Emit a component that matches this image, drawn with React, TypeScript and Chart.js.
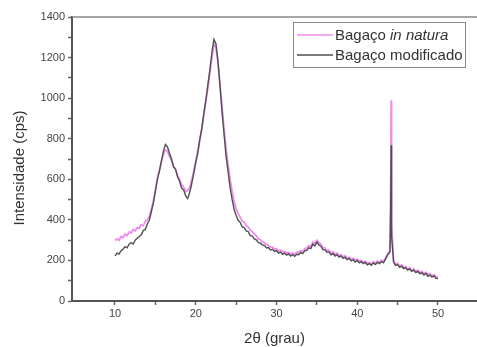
import React, { useEffect, useRef } from "react";
import { Chart, registerables } from "chart.js";

Chart.register(...registerables);

const angles = [
  10, 10.25, 10.5, 10.75, 11, 11.25, 11.5, 11.75, 12, 12.25, 12.5, 12.75,
  13, 13.25, 13.5, 13.75, 14, 14.25, 14.5, 14.75, 15, 15.25, 15.5, 15.75,
  16, 16.25, 16.5, 16.75, 17, 17.25, 17.5, 17.75, 18, 18.25, 18.5, 18.75,
  19, 19.25, 19.5, 19.75, 20, 20.25, 20.5, 20.75, 21, 21.25, 21.5, 21.75,
  22, 22.25, 22.5, 22.75, 23, 23.25, 23.5, 23.75, 24, 24.25, 24.5, 24.75,
  25, 25.25, 25.5, 25.75, 26, 26.25, 26.5, 26.75, 27, 27.25, 27.5, 27.75,
  28, 28.25, 28.5, 28.75, 29, 29.25, 29.5, 29.75, 30, 30.25, 30.5, 30.75,
  31, 31.25, 31.5, 31.75, 32, 32.25, 32.5, 32.75, 33, 33.25, 33.5, 33.75,
  34, 34.25, 34.5, 34.75, 35, 35.25, 35.5, 35.75, 36, 36.25, 36.5, 36.75,
  37, 37.25, 37.5, 37.75, 38, 38.25, 38.5, 38.75, 39, 39.25, 39.5, 39.75,
  40, 40.25, 40.5, 40.75, 41, 41.25, 41.5, 41.75, 42, 42.25, 42.5, 42.75,
  43, 43.25, 43.5, 43.75, 44.05, 44.15, 44.2, 44.25, 44.5, 44.75,
  45, 45.25, 45.5, 45.75, 46, 46.25, 46.5, 46.75, 47, 47.25, 47.5, 47.75,
  48, 48.25, 48.5, 48.75, 49, 49.25, 49.5, 49.75, 50,
];

const inNatura = [
  298, 306, 300, 318, 312, 330, 322, 340, 335, 352, 345, 362,
  358, 375, 372, 392, 400, 418, 452, 492, 548, 604, 645, 688,
  722, 745, 738, 712, 692, 662, 650, 618, 600, 572, 562, 540,
  545, 560, 596, 640, 690, 742, 795, 850, 915, 982, 1050, 1125,
  1200, 1268, 1250, 1172, 1072, 962, 850, 752, 672, 600, 542, 490,
  455, 430, 414, 394, 388, 372, 364, 350, 342, 330, 322, 306,
  302, 292, 288, 278, 274, 266, 266, 256, 258, 248, 250, 242,
  244, 236, 240, 232, 236, 230, 240, 238, 248, 244, 258, 262,
  272, 270, 290, 285, 300, 288, 280, 262, 262, 248, 250, 238,
  242, 230, 236, 224, 228, 218, 224, 212, 216, 206, 210, 200,
  206, 196, 200, 190, 196, 186, 190, 182, 194, 186, 196, 190,
  200, 196, 212, 232, 250, 640, 990, 380, 198, 182,
  186, 172, 178, 166, 170, 158, 164, 152, 158, 146, 152, 140,
  146, 136, 142, 130, 134, 124, 130, 118, 120,
];

const modificado = [
  222, 236, 231, 248, 255, 268, 262, 280, 288, 281, 300, 309,
  318, 326, 348, 352, 380, 398, 440, 482, 540, 600, 640, 690,
  740, 772, 760, 728, 700, 662, 648, 612, 590, 556, 548, 518,
  505, 535, 578, 628, 682, 728, 795, 850, 925, 990, 1065, 1140,
  1225, 1290, 1268, 1185, 1060, 935, 825, 715, 640, 560, 502, 452,
  422, 398, 388, 365, 362, 345, 342, 322, 320, 306, 302, 288,
  286, 276, 274, 262, 264, 252, 255, 244, 248, 236, 241, 230,
  236, 226, 232, 222, 229, 220, 230, 228, 240, 234, 248, 250,
  262, 258, 280, 272, 290, 276, 270, 252, 252, 240, 242, 228,
  234, 222, 228, 216, 222, 210, 216, 204, 210, 198, 204, 192,
  200, 188, 194, 184, 190, 178, 184, 176, 188, 180, 190, 184,
  194, 188, 206, 226, 240, 480, 768, 320, 192, 176,
  180, 166, 172, 160, 164, 152, 158, 146, 152, 140, 146, 134,
  140, 128, 136, 122, 128, 118, 124, 112, 110,
];

const xTicks = [10, 15, 20, 25, 30, 35, 40, 45, 50];
const yTicks = [0, 100, 200, 300, 400, 500, 600, 700, 800, 900, 1000, 1100, 1200, 1300, 1400];
const seriesNames = ["Bagaço ", "in natura", "Bagaço modificado"];
const xTitle = "2θ (grau)";
const yTitle = "Intensidade (cps)";

const PINK = "#ee8cee";
const DARK = "#505050";
const FONT = "'Liberation Sans', Arial, sans-serif";

const decorPlugin = {
  id: "decor",
  afterDraw(chart: any) {
    const ctx = chart.ctx;
    const a = chart.chartArea;
    ctx.save();
    ctx.strokeStyle = "#888";
    ctx.lineWidth = 1.5;
    ctx.beginPath();
    ctx.moveTo(a.left, a.top);
    ctx.lineTo(a.right, a.top);
    ctx.stroke();

    ctx.fillStyle = "#333";
    ctx.font = `15px ${FONT}`;
    ctx.textAlign = "center";
    ctx.textBaseline = "middle";
    ctx.fillText(xTitle, (a.left + a.right) / 2, 339);
    ctx.save();
    ctx.translate(20, 168);
    ctx.rotate(-Math.PI / 2);
    ctx.fillText(yTitle, 0, 0);
    ctx.restore();

    ctx.strokeStyle = "#888";
    ctx.lineWidth = 1;
    ctx.strokeRect(293.5, 22.5, 172, 45);
    ctx.lineWidth = 1.5;
    ctx.strokeStyle = PINK;
    ctx.beginPath();
    ctx.moveTo(297, 35);
    ctx.lineTo(333, 35);
    ctx.stroke();
    ctx.strokeStyle = DARK;
    ctx.beginPath();
    ctx.moveTo(297, 55);
    ctx.lineTo(333, 55);
    ctx.stroke();
    ctx.fillStyle = "#333";
    ctx.textAlign = "left";
    ctx.font = `15px ${FONT}`;
    ctx.fillText(seriesNames[0], 335, 36);
    const w = ctx.measureText(seriesNames[0]).width;
    ctx.font = `italic 15px ${FONT}`;
    ctx.fillText(seriesNames[1], 335 + w, 36);
    ctx.font = `15px ${FONT}`;
    ctx.fillText(seriesNames[2], 335, 56);
    ctx.restore();
  },
};

export default function App() {
  const ref = useRef<HTMLCanvasElement>(null);
  useEffect(() => {
    if (!ref.current) return;
    const chart = new Chart(ref.current, {
      type: "line",
      data: {
        datasets: [
          {
            label: "Bagaço modificado",
            data: angles.map((x, i) => ({ x, y: modificado[i] })),
            borderColor: DARK,
            borderWidth: 1.4,
            pointRadius: 0,
            tension: 0,
            order: 0,
          },
          {
            label: "Bagaço in natura",
            data: angles.map((x, i) => ({ x, y: inNatura[i] })),
            borderColor: PINK,
            borderWidth: 1.8,
            pointRadius: 0,
            tension: 0,
            order: 1,
          },
        ],
      },
      options: {
        responsive: false,
        animation: false,
        layout: { padding: { top: 17, right: 0, left: 0, bottom: 0 } },
        plugins: { legend: { display: false }, tooltip: { enabled: false } },
        scales: {
          x: {
            type: "linear",
            min: 4.675,
            max: 54.83,
            afterBuildTicks: (s: any) => {
              s.ticks = xTicks.map((v) => ({ value: v }));
            },
            afterFit: (s: any) => {
              s.height = 46;
            },
            ticks: {
              autoSkip: false,
              maxRotation: 0,
              padding: 2,
              color: "#444",
              font: { family: FONT, size: 11 },
              callback: (v: any) => (Number(v) % 10 === 0 ? String(v) : ""),
            },
            grid: {
              display: true,
              drawOnChartArea: false,
              drawTicks: true,
              tickLength: 4,
              tickColor: "#666",
              tickWidth: 1.5,
            },
            border: { display: true, color: "#555", width: 2 },
          },
          y: {
            type: "linear",
            min: 0,
            max: 1400,
            afterBuildTicks: (s: any) => {
              s.ticks = yTicks.map((v) => ({ value: v }));
            },
            afterFit: (s: any) => {
              s.width = 72;
            },
            ticks: {
              autoSkip: false,
              padding: 3,
              color: "#444",
              font: { family: FONT, size: 11 },
              callback: (v: any) => (Number(v) % 200 === 0 ? String(v) : ""),
            },
            grid: {
              display: true,
              drawOnChartArea: false,
              drawTicks: true,
              tickLength: 4,
              tickColor: "#666",
              tickWidth: 1.5,
            },
            border: { display: true, color: "#555", width: 2 },
          },
        },
      },
      plugins: [decorPlugin],
    } as any);
    return () => chart.destroy();
  }, []);
  return (
    <div style={{ position: "fixed", left: 0, top: 0, width: 477, height: 347, background: "#fff" }}>
      <canvas ref={ref} width={477} height={347} />
    </div>
  );
}
